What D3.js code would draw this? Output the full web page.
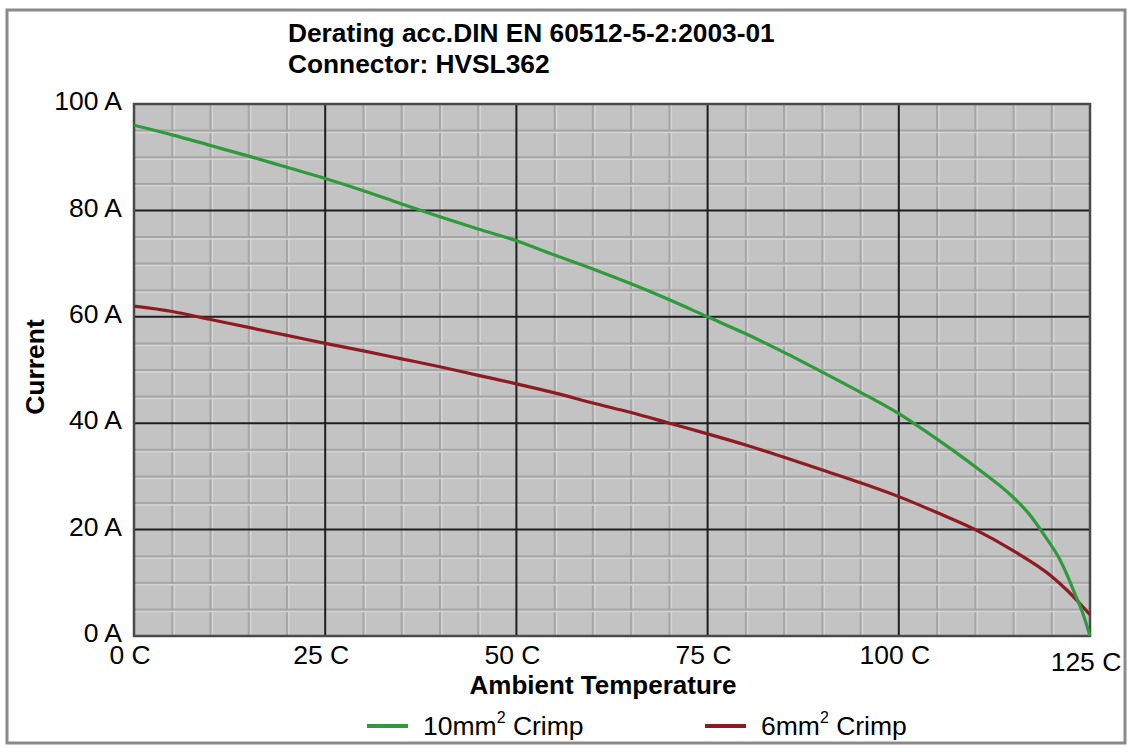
<!DOCTYPE html>
<html><head><meta charset="utf-8">
<script src="https://cdn.jsdelivr.net/npm/d3@7"></script>
<style>
html,body{margin:0;padding:0;background:#fff;}
svg{display:block;font-family:"Liberation Sans",Arial,sans-serif;}
</style></head>
<body><svg id="c" width="1131" height="748"></svg>
<script>
// ---- data ----
const temps10 = [0,5,10,15,20,25,30,35,40,45,50,55,60,65,70,75,80,85,90,95,100,105,110,115,117,119,121,122,123,124,125];
const current10 = [96,94.2,92.2,90.2,88.1,86,83.7,81.2,78.8,76.5,74.3,71.6,69,66.2,63.2,60,56.8,53.3,49.6,45.8,41.8,37,31.8,26,23,19,14.5,11.5,8,4.5,0];
const temps6 = [0,5,10,15,20,25,30,35,40,45,50,55,60,65,70,75,80,85,90,95,100,105,110,115,120,122,124,125];
const current6 = [62,61,59.5,58,56.5,55,53.6,52.1,50.6,49,47.4,45.7,43.8,42,40,38,35.9,33.6,31.2,28.8,26.2,23.2,20,16,11.2,8.6,5.6,4];
const xTicks = [0,25,50,75,100,125];
const yTicks = [0,20,40,60,80,100];
const seriesNames = ["10mm", "6mm"];
const seriesColors = ["#2f9a3c", "#8e1b22"];
const titleLines = ["Derating acc.DIN EN 60512-5-2:2003-01", "Connector: HVSL362"];

const svg = d3.select("#c");
const L = 134, R = 1090, T = 104, B = 636;
const x = d3.scaleLinear().domain([0,125]).range([L,R]);
const y = d3.scaleLinear().domain([0,100]).range([B,T]);

// outer frame
svg.append("rect").attr("x",7).attr("y",10).attr("width",1118).attr("height",733)
  .attr("fill","#fff").attr("stroke","#8a8a8a").attr("stroke-width",3);

// plot background
svg.append("rect").attr("x",L).attr("y",T).attr("width",R-L).attr("height",B-T).attr("fill","#c3c3c3");

// minor grid
const xMinor = d3.range(0,126,5).filter(v=>v%25!==0);
const yMinor = d3.range(0,101,5).filter(v=>v%20!==0);
const g = svg.append("g");
g.selectAll(".vminL").data(xMinor).join("line")
  .attr("x1",d=>x(d)+2).attr("x2",d=>x(d)+2).attr("y1",T).attr("y2",B)
  .attr("stroke","#d4d4d4").attr("stroke-width",1.5);
g.selectAll(".vmin").data(xMinor).join("line")
  .attr("x1",d=>x(d)).attr("x2",d=>x(d)).attr("y1",T).attr("y2",B)
  .attr("stroke","#a6a6a6").attr("stroke-width",2);
g.selectAll(".hminL").data(yMinor).join("line")
  .attr("y1",d=>y(d)+2).attr("y2",d=>y(d)+2).attr("x1",L).attr("x2",R)
  .attr("stroke","#d4d4d4").attr("stroke-width",1.5);
g.selectAll(".hmin").data(yMinor).join("line")
  .attr("y1",d=>y(d)).attr("y2",d=>y(d)).attr("x1",L).attr("x2",R)
  .attr("stroke","#a6a6a6").attr("stroke-width",2);

// major grid
g.selectAll(".vmaj").data(xTicks.slice(1,-1)).join("line")
  .attr("x1",d=>x(d)).attr("x2",d=>x(d)).attr("y1",T).attr("y2",B)
  .attr("stroke","#1e1e1e").attr("stroke-width",2);
g.selectAll(".hmaj").data(yTicks.slice(1,-1)).join("line")
  .attr("y1",d=>y(d)).attr("y2",d=>y(d)).attr("x1",L).attr("x2",R)
  .attr("stroke","#1e1e1e").attr("stroke-width",2);

// plot border
svg.append("rect").attr("x",L).attr("y",T).attr("width",R-L).attr("height",B-T)
  .attr("fill","none").attr("stroke","#4a4a4a").attr("stroke-width",2.5);

// curves
const line = d3.line().x(d=>x(d[0])).y(d=>y(d[1])).curve(d3.curveMonotoneX);
const s10 = temps10.map((t,i)=>[t,current10[i]]);
const s6 = temps6.map((t,i)=>[t,current6[i]]);
svg.append("path").datum(s6).attr("d",line).attr("fill","none")
  .attr("stroke",seriesColors[1]).attr("stroke-width",3.2);
svg.append("path").datum(s10).attr("d",line).attr("fill","none")
  .attr("stroke",seriesColors[0]).attr("stroke-width",3.2);

// axes tick labels
const fs = 26.5;
svg.append("g").selectAll("text").data(yTicks).join("text")
  .attr("x",122).attr("y",d=>y(d)-3).attr("dy","0.35em")
  .attr("text-anchor","end").attr("font-size",fs).attr("fill","#000")
  .text(d=>d+" A");
svg.append("g").selectAll("text").data(xTicks).join("text")
  .attr("x",d=>x(d)-4).attr("y",d=>d===125?671:664)
  .attr("text-anchor","middle").attr("font-size",fs).attr("fill","#000")
  .text(d=>d+" C");

// axis titles
svg.append("text").attr("x",603).attr("y",694).attr("text-anchor","middle")
  .attr("font-size",26).attr("font-weight","bold").text("Ambient Temperature");
svg.append("text").attr("transform","translate(44,367) rotate(-90)").attr("text-anchor","middle")
  .attr("font-size",fs).attr("font-weight","bold").text("Current");

// title
svg.append("g").selectAll("text").data(titleLines).join("text")
  .attr("x",288).attr("y",(d,i)=>42+i*31).attr("font-size",26.3).attr("font-weight","bold")
  .text(d=>d);

// legend
const legX = [367, 705];
seriesNames.forEach((n,i)=>{
  svg.append("line").attr("x1",legX[i]).attr("x2",legX[i]+41).attr("y1",726).attr("y2",726)
    .attr("stroke",seriesColors[i]).attr("stroke-width",4);
  const t = svg.append("text").attr("x",legX[i]+56).attr("y",735).attr("font-size",fs);
  t.append("tspan").text(n);
  t.append("tspan").attr("font-size",16).attr("dy",-12).text("2");
  t.append("tspan").attr("dy",12).text(" Crimp");
});
</script></body></html>
